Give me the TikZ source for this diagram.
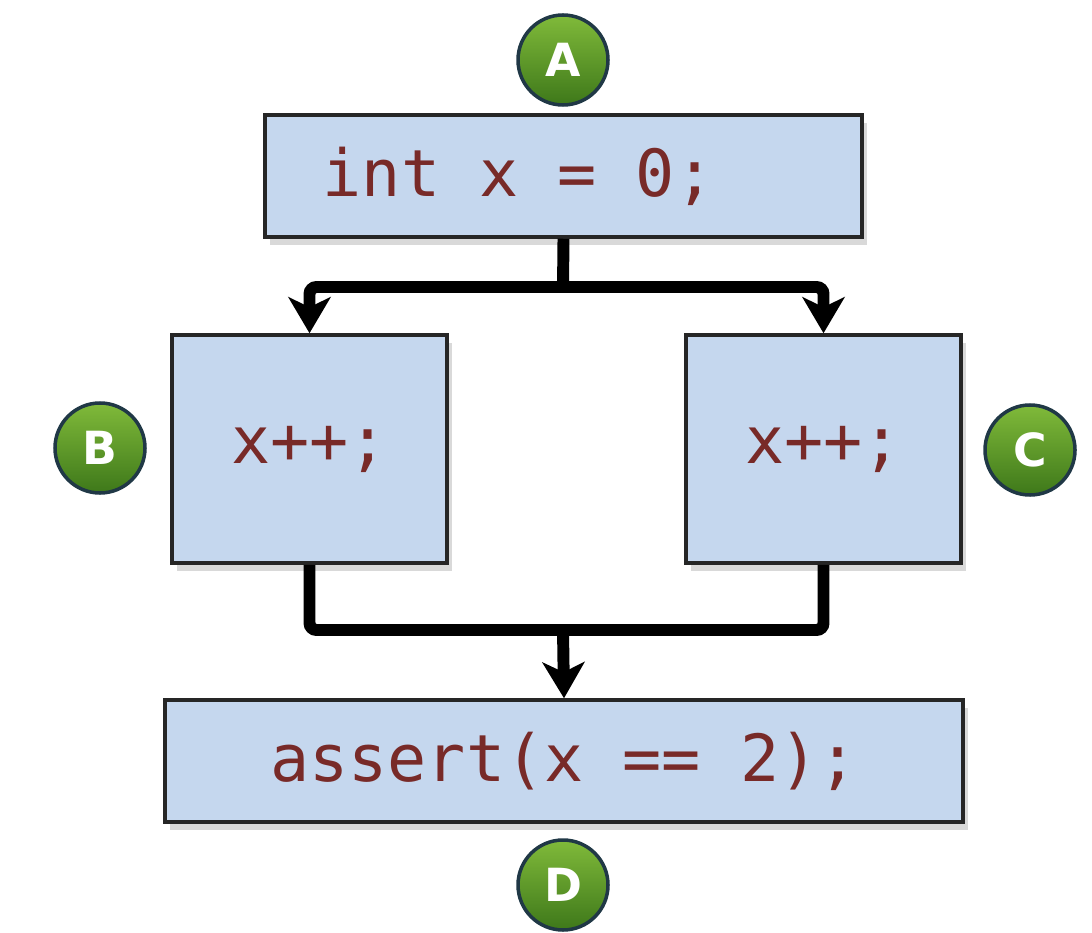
\documentclass[tikz,border=0pt]{standalone}
\usepackage{fontspec}
\setmonofont{DejaVu Sans Mono}
\setsansfont{DejaVu Sans}
\usetikzlibrary{arrows.meta,positioning,calc,shadows}
\definecolor{boxblue}{RGB}{197, 215, 238}
\definecolor{codered}{RGB}{120, 42, 40}
\definecolor{badgetop}{RGB}{128, 186, 58}
\definecolor{badgebottom}{RGB}{62, 120, 26}
\definecolor{badgerim}{RGB}{32, 56, 70}

\begin{document}
\begin{tikzpicture}[x=1cm, y=1cm,
    codebox/.style={draw=black!85, line width=1pt, fill=boxblue, text=codered,
        font=\ttfamily\fontsize{18.5}{21}\selectfont,
        drop shadow={shadow xshift=0.05cm, shadow yshift=-0.08cm, opacity=0.3}},
    badge/.style={circle, minimum size=0.9cm, inner sep=0pt, top color=badgetop, bottom color=badgebottom,
        draw=badgerim, line width=1pt, text=white, font=\sffamily\bfseries\fontsize{13}{15}\selectfont},
    flow/.style={line width=3.4pt, rounded corners=2pt, -{Stealth[length=0.36cm, width=0.42cm, inset=0.1cm]}},
    merge/.style={line width=3.4pt, rounded corners=2pt}]
    \useasboundingbox (0, 0) rectangle (10.92, 9.32);

    % Code blocks
    \node[codebox, minimum width=5.97cm, minimum height=1.22cm] (init) at (5.635, 7.56) {int x = 0;\hspace*{0.9cm}};
    \node[codebox, minimum width=2.75cm, minimum height=2.28cm] (incl) at (3.095, 4.83) {x++;};
    \node[codebox, minimum width=2.75cm, minimum height=2.28cm] (incr) at (8.235, 4.83) {x++;};
    \node[codebox, minimum width=7.98cm, minimum height=1.22cm] (check) at (5.64, 1.71) {assert(x == 2);};

    % Program points
    \node[badge] (ptA) at (5.63, 8.72) {A};
    \node[badge] (ptB) at (1.00, 4.84) {B};
    \node[badge] (ptC) at (10.30, 4.82) {C};
    \node[badge] (ptD) at (5.63, 0.47) {D};

    % Fork after the declaration
    \coordinate (split) at (5.63, 6.45);
    \draw[merge] (init.south) -- (split);
    \draw[flow] (split) -| (incl.north);
    \draw[flow] (split) -| (incr.north);

    % Join before the assertion
    \coordinate (join) at (5.63, 3.02);
    \draw[merge] (incl.south) |- (join) -| (incr.south);
    \draw[flow] (join) -- (check.north);
\end{tikzpicture}
\end{document}
